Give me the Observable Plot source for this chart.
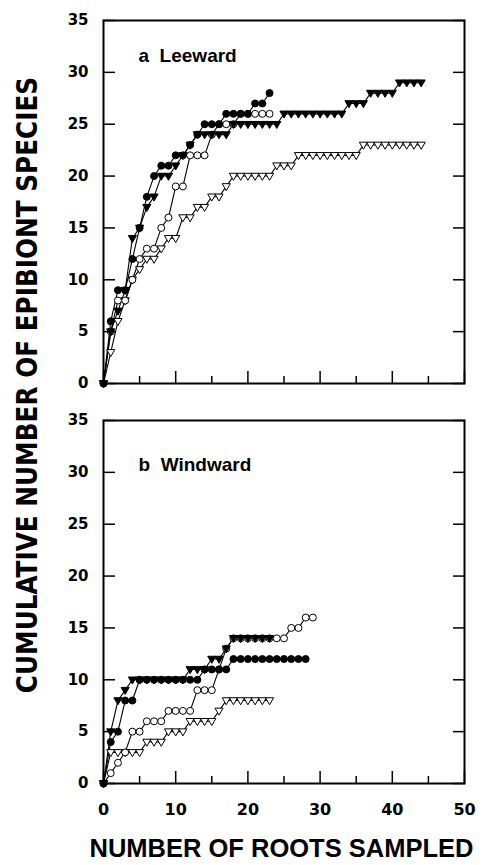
<!DOCTYPE html>
<html><head><meta charset="utf-8">
<script src="https://cdn.jsdelivr.net/npm/d3@7"></script>
<script src="https://cdn.jsdelivr.net/npm/@observablehq/plot@0.6"></script>
<style>body{margin:0;background:#fff} #chart{width:483px;height:865px}</style>
</head><body><div id="chart"></div><script>
// Panels
const panels = ["a", "b"];
const panelLabels = ["a  Leeward", "b  Windward"];
// Axis ticks / titles
const ticksY = [0, 5, 10, 15, 20, 25, 30, 35];
const ticksXMajor = [0, 10, 20, 30, 40, 50];
const ticksXMinor = [5, 15, 25, 35, 45];
const xTitle = "NUMBER OF ROOTS SAMPLED";
const yTitle = "CUMULATIVE NUMBER OF EPIBIONT SPECIES";
// Series: cumulative species after n roots (n = index)
const aFilledCircle   = [0,6,9,9,12,15,18,20,21,21,22,22,23,24,25,25,25,26,26,26,26,27,27,28];
const aOpenCircle     = [0,5,8,8,10,12,13,13,15,16,19,19,22,22,22,24,25,25,25,26,26,26,26,26];
const aFilledTriangle = [0,5,7,9,14,15,17,18,20,20,21,22,23,24,24,24,24,24,25,25,25,25,25,25,25,26,26,26,26,26,26,26,26,26,27,27,27,28,28,28,28,29,29,29,29];
const aOpenTriangle   = [0,3,6,8,10,11,12,12,13,14,14,16,16,17,17,18,18,19,20,20,20,20,20,20,21,21,21,22,22,22,22,22,22,22,22,22,23,23,23,23,23,23,23,23,23];
const bFilledCircle   = [0,4,5,8,8,10,10,10,10,10,10,10,10,10,11,11,11,11,12,12,12,12,12,12,12,12,12,12,12];
const bOpenCircle     = [0,1,2,3,5,5,6,6,6,7,7,7,7,9,9,9,11,13,14,14,14,14,14,14,14,14,15,15,16,16];
const bFilledTriangle = [0,5,8,9,10,10,10,10,10,10,10,10,11,11,11,12,12,13,14,14,14,14,14,14];
const bOpenTriangle   = [0,3,3,3,3,3,4,4,4,5,5,5,6,6,6,6,7,8,8,8,8,8,8,8];

const rows = [];
function add(panel, series, ys) { ys.forEach((y, i) => rows.push({panel, series, x: i, y})); }
add("a", "fc", aFilledCircle); add("a", "oc", aOpenCircle);
add("a", "ft", aFilledTriangle); add("a", "ot", aOpenTriangle);
add("b", "fc", bFilledCircle); add("b", "oc", bOpenCircle);
add("b", "ft", bFilledTriangle); add("b", "ot", bOpenTriangle);

const triDown = {draw(ctx, size) {
  const r = Math.sqrt(size / Math.PI);
  ctx.moveTo(-r * 1.1, -r * 0.75); ctx.lineTo(r * 1.1, -r * 0.75); ctx.lineTo(0, r * 1.15); ctx.closePath();
}};
const styleOf = {
  ot: {symbol: triDown, fill: "white", r: 3.7},
  oc: {symbol: "circle", fill: "white", r: 3.5},
  ft: {symbol: triDown, fill: "black", r: 3.7},
  fc: {symbol: "circle", fill: "black", r: 3.5}
};
const dotMarks = ["ot", "oc", "ft", "fc"].map(s => Plot.dot(rows.filter(d => d.series === s), {
  x: "x", y: "y", fy: "panel", stroke: "black", strokeWidth: 1, ...styleOf[s]
}));
const labelData = panels.map((p, i) => ({panel: p, label: panelLabels[i]}));

const chart = Plot.plot({
  width: 483, height: 865,
  marginTop: 20, marginBottom: 81, marginLeft: 103, marginRight: 19,
  style: {background: "white", color: "black", fontFamily: "DejaVu Sans", fontWeight: "bold", fontSize: "15px"},
  x: {domain: [0, 50], label: null},
  y: {domain: [0, 35], label: null},
  fy: {domain: panels, paddingInner: 0.0924, paddingOuter: 0, axis: null, label: null},
  marks: [
    Plot.line(rows, {x: "x", y: "y", z: "series", fy: "panel", stroke: "black", strokeWidth: 1.1}),
    ...dotMarks,
    Plot.axisY({ticks: ticksY, tickSize: -12, tickPadding: 27, label: null, fontSize: 15, strokeWidth: 1.5}),
    Plot.axisY({anchor: "right", ticks: ticksY, tickSize: -12, fill: "none", label: null, strokeWidth: 1.5}),
    Plot.axisX({ticks: ticksXMinor, tickSize: -7, fill: "none", label: null, facetAnchor: null, strokeWidth: 1.5}),
    Plot.axisX({ticks: ticksXMajor, tickSize: -12, fill: "none", label: null, facetAnchor: null, strokeWidth: 1.5}),
    Plot.axisX({ticks: ticksXMajor, tickSize: 0, tickPadding: 20, label: null, fontSize: 16}),
    Plot.frame({strokeWidth: 2}),
    Plot.text(labelData.filter(d => d.panel === "a"), {fy: "panel", text: "label", frameAnchor: "top-left", dx: 35, dy: 35, textAnchor: "start", lineAnchor: "middle", fontSize: 19, fontWeight: "bold", fontFamily: "Liberation Sans, Arial, sans-serif"}),
    Plot.text(labelData.filter(d => d.panel === "b"), {fy: "panel", text: "label", frameAnchor: "top-left", dx: 35, dy: 44, textAnchor: "start", lineAnchor: "middle", fontSize: 19, fontWeight: "bold", fontFamily: "Liberation Sans, Arial, sans-serif"})
  ]
});
document.getElementById("chart").appendChild(chart);

const svg = d3.select(chart);
const xr = chart.scale("x").range;
svg.append("text").attr("x", (xr[0] + xr[1]) / 2 - 2).attr("y", 857)
  .attr("text-anchor", "middle").style("font-family", "Liberation Sans, Arial, sans-serif")
  .style("font-weight", "bold").style("font-size", "25.5px").text(xTitle);
svg.append("text").attr("transform", "translate(37,385) rotate(-90)")
  .attr("text-anchor", "middle").style("font-family", "Liberation Sans Narrow, DejaVu Sans Condensed, sans-serif")
  .style("font-weight", "bold").style("font-size", "27.5px").text(yTitle);
</script></body></html>
